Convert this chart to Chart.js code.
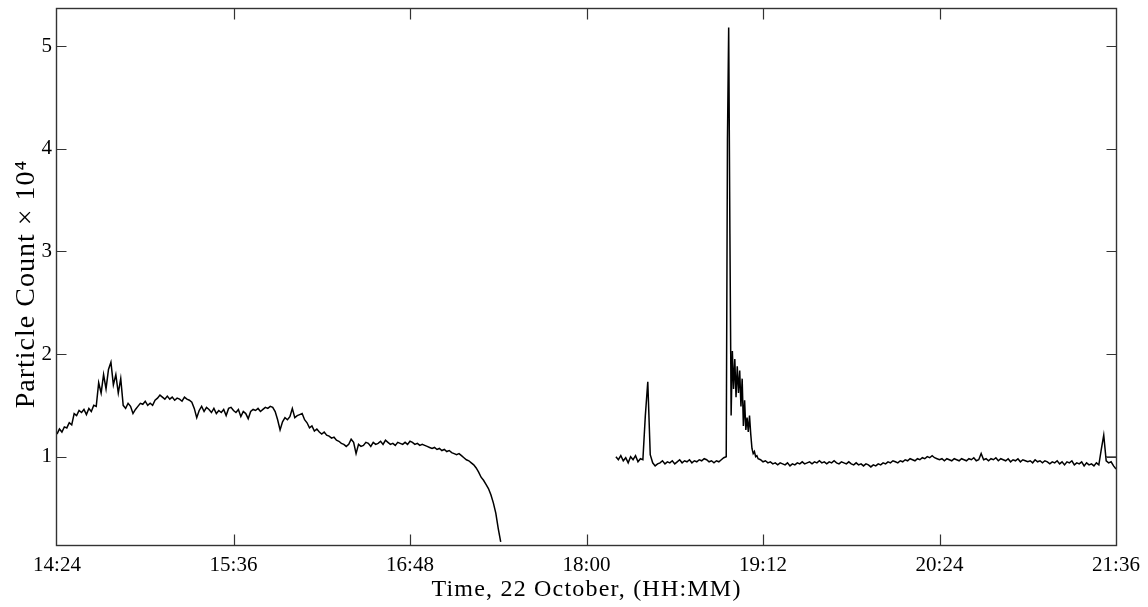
<!DOCTYPE html>
<html><head><meta charset="utf-8">
<script src="https://cdn.jsdelivr.net/npm/chart.js@4"></script>
<style>html,body{margin:0;padding:0;background:#fff}#wrap{width:1148px;height:607px;position:relative}</style>
</head><body><div id="wrap"><canvas id="c" width="1148" height="607"></canvas></div>
<script>
// ---- tick labels (minutes after midnight) ----
const xTickMinutes = [864, 936, 1008, 1080, 1152, 1224, 1296];
const xTickLabels = ['14:24', '15:36', '16:48', '18:00', '19:12', '20:24', '21:36'];
const yTickValues = [1, 2, 3, 4, 5];
const xTitle = 'Time, 22 October, (HH:MM)';
const yTitle = 'Particle Count \u00d7 10\u2074';

// ---- series 1: 14:24 -> ~17:25, one reading per minute ----
const seg1Start = 864, seg1Step = 1;
const seg1Values = [
  1.22,1.27,1.24,1.29,1.28,1.33,1.31,1.42,1.40,1.45,
  1.43,1.46,1.41,1.47,1.44,1.50,1.49,1.72,1.62,1.80,
  1.66,1.85,1.92,1.70,1.80,1.62,1.76,1.50,1.47,1.52,
  1.49,1.42,1.46,1.49,1.52,1.51,1.54,1.50,1.52,1.50,
  1.55,1.57,1.60,1.58,1.56,1.59,1.56,1.58,1.55,1.57,
  1.56,1.54,1.58,1.56,1.55,1.53,1.47,1.38,1.45,1.49,
  1.44,1.48,1.46,1.43,1.47,1.42,1.45,1.43,1.46,1.40,
  1.47,1.48,1.45,1.43,1.46,1.39,1.44,1.42,1.37,1.44,
  1.46,1.45,1.47,1.44,1.46,1.48,1.47,1.49,1.48,1.44,
  1.36,1.26,1.34,1.38,1.36,1.39,1.47,1.38,1.40,1.41,
  1.42,1.36,1.33,1.28,1.30,1.25,1.27,1.24,1.22,1.24,
  1.21,1.20,1.18,1.19,1.16,1.15,1.13,1.12,1.10,1.12,
  1.17,1.14,1.03,1.12,1.10,1.11,1.14,1.13,1.10,1.14,
  1.12,1.13,1.15,1.12,1.16,1.14,1.12,1.13,1.11,1.14,
  1.13,1.12,1.14,1.12,1.15,1.14,1.12,1.13,1.11,1.12,
  1.11,1.10,1.09,1.08,1.09,1.07,1.08,1.06,1.07,1.05,
  1.06,1.04,1.03,1.02,1.03,1.01,0.99,0.97,0.96,0.94,
  0.92,0.89,0.85,0.80,0.77,0.73,0.69,0.63,0.55,0.45,
  0.30,0.17
];

// ---- series 2, part a: 18:12 -> 18:56 ----
const seg2aStart = 1092, seg2aStep = 1;
const seg2aValues = [
  1.00,0.97,1.01,0.96,0.99,0.94,1.00,0.97,1.01,0.95,0.98,0.97,
  1.40,1.73,1.02,0.94,0.91,0.93,
  0.94,0.96,0.93,0.95,0.94,0.96,0.93,0.95,0.97,0.94,
  0.96,0.95,0.97,0.94,0.96,0.95,0.97,0.96,0.98,0.97,
  0.95,0.96,0.94,0.96,0.95,0.97,0.99
];

// ---- series 2, burst: 18:57 -> 19:10, every half minute ----
const burstStart = 1137, burstStep = 0.5;
const burstValues = [
  1.00,4.09,5.18,3.17,1.40,2.03,1.66,1.95,1.58,1.88,
  1.62,1.84,1.49,1.76,1.30,1.55,1.26,1.38,1.24,1.40,
  1.22,1.08,1.03,1.05,1.00,1.01,0.98
];

// ---- series 2, part b: 19:11 -> 21:36 ----
const seg2bStart = 1151, seg2bStep = 1;
const seg2bValues = [
  0.97,0.95,0.96,0.94,0.95,0.93,0.94,0.92,0.94,0.93,
  0.92,0.94,0.91,0.93,0.92,0.94,0.93,0.95,0.93,0.94,
  0.95,0.93,0.95,0.94,0.96,0.94,0.95,0.93,0.95,0.94,
  0.96,0.94,0.93,0.95,0.94,0.93,0.95,0.93,0.92,0.94,
  0.92,0.93,0.91,0.93,0.92,0.90,0.92,0.91,0.93,0.92,
  0.94,0.93,0.95,0.94,0.96,0.95,0.94,0.96,0.95,0.97,
  0.96,0.98,0.97,0.96,0.98,0.97,0.99,0.98,1.00,0.99,
  1.01,0.99,0.98,0.97,0.98,0.96,0.98,0.97,0.96,0.98,
  0.97,0.96,0.98,0.97,0.96,0.98,0.97,0.99,0.96,0.97,
  1.03,0.97,0.98,0.96,0.98,0.97,0.99,0.96,0.98,0.97,
  0.96,0.98,0.95,0.97,0.96,0.98,0.95,0.97,0.96,0.95,
  0.96,0.94,0.97,0.95,0.96,0.94,0.96,0.95,0.93,0.95,
  0.94,0.96,0.93,0.95,0.92,0.95,0.94,0.96,0.92,0.94,
  0.93,0.95,0.91,0.94,0.92,0.93,0.91,0.94,0.92,1.07,
  1.21,0.96,0.94,0.95,0.91,0.88
];

// ---- short grey reference stub at the right edge ----
const stubTimes = [1291.6, 1296];
const stubValues = [1.0, 1.0];

function toPoints(start, step, values) {
  return values.map((v, i) => ({ x: start + i * step, y: v }));
}
const series1 = toPoints(seg1Start, seg1Step, seg1Values);
const series2 = [].concat(
  toPoints(seg2aStart, seg2aStep, seg2aValues),
  toPoints(burstStart, burstStep, burstValues),
  toPoints(seg2bStart, seg2bStep, seg2bValues)
);
const stub = stubTimes.map((t, i) => ({ x: t, y: stubValues[i] }));

const SERIF = "'Liberation Serif', 'Times New Roman', serif";

const framePlugin = {
  id: 'frame',
  afterDraw(chart) {
    const { ctx, chartArea: a, scales: { x, y } } = chart;
    const L = Math.round(a.left) - 0.5, R = Math.round(a.right) + 0.5;
    const T = Math.round(a.top) + 0.5, B = Math.round(a.bottom) - 0.5;
    ctx.save();
    ctx.strokeStyle = '#333';
    ctx.lineWidth = 1.4;
    ctx.strokeRect(L, T, R - L, B - T);
    ctx.lineWidth = 1.2;
    ctx.beginPath();
    xTickMinutes.slice(1, -1).forEach(m => {
      const px = Math.round(x.getPixelForValue(m)) + 0.5;
      ctx.moveTo(px, B); ctx.lineTo(px, B - 11);
      ctx.moveTo(px, T); ctx.lineTo(px, T + 11);
    });
    yTickValues.forEach(v => {
      const py = Math.round(y.getPixelForValue(v)) + 0.5;
      ctx.moveTo(L, py); ctx.lineTo(L + 10, py);
      ctx.moveTo(R, py); ctx.lineTo(R - 10, py);
    });
    ctx.stroke();

    // axis titles
    ctx.fillStyle = '#000';
    ctx.font = '24px ' + SERIF;
    ctx.letterSpacing = '1.2px';
    ctx.textAlign = 'center';
    ctx.textBaseline = 'alphabetic';
    ctx.fillText(xTitle, (a.left + a.right) / 2, 596);

    ctx.save();
    ctx.translate(33.5, 284);
    ctx.rotate(-Math.PI / 2);
    ctx.font = '28px ' + SERIF;
    ctx.letterSpacing = '1px';
    ctx.fillText(yTitle, 0, 0);
    ctx.restore();
    ctx.restore();
  }
};

new Chart(document.getElementById('c'), {
  type: 'line',
  data: {
    datasets: [
      { data: series1, borderColor: '#000', borderWidth: 1.5, pointRadius: 0, tension: 0 },
      { data: series2, borderColor: '#000', borderWidth: 1.5, pointRadius: 0, tension: 0 },
      { data: stub, borderColor: '#555', borderWidth: 1, pointRadius: 0, tension: 0 }
    ]
  },
  options: {
    responsive: false,
    devicePixelRatio: 1,
    animation: false,
    parsing: false,
    normalized: true,
    layout: { padding: { top: 8, right: 32, left: 0, bottom: 0 } },
    plugins: { legend: { display: false }, tooltip: { enabled: false } },
    scales: {
      x: {
        type: 'linear',
        min: 864, max: 1296,
        afterBuildTicks: s => { s.ticks = xTickMinutes.map(v => ({ value: v })); },
        afterFit: s => { s.height = 61; s.paddingLeft = 0; s.paddingRight = 0; },
        grid: { display: false, drawTicks: false },
        border: { display: false },
        ticks: {
          maxRotation: 0, autoSkip: false, padding: 7, color: '#000',
          font: { family: SERIF, size: 21 },
          callback: (v) => xTickLabels[xTickMinutes.indexOf(v)]
        },
        title: { display: false }
      },
      y: {
        type: 'linear',
        min: 0.13, max: 5.37,
        afterBuildTicks: s => { s.ticks = yTickValues.map(v => ({ value: v })); },
        afterFit: s => { s.width = 57; s.paddingTop = 0; s.paddingBottom = 0; },
        grid: { display: false, drawTicks: false },
        border: { display: false },
        ticks: {
          padding: 5, color: '#000',
          font: { family: SERIF, size: 21 },
          callback: (v) => String(v)
        },
        title: { display: false }
      }
    }
  },
  plugins: [framePlugin]
});
</script>
</body></html>
